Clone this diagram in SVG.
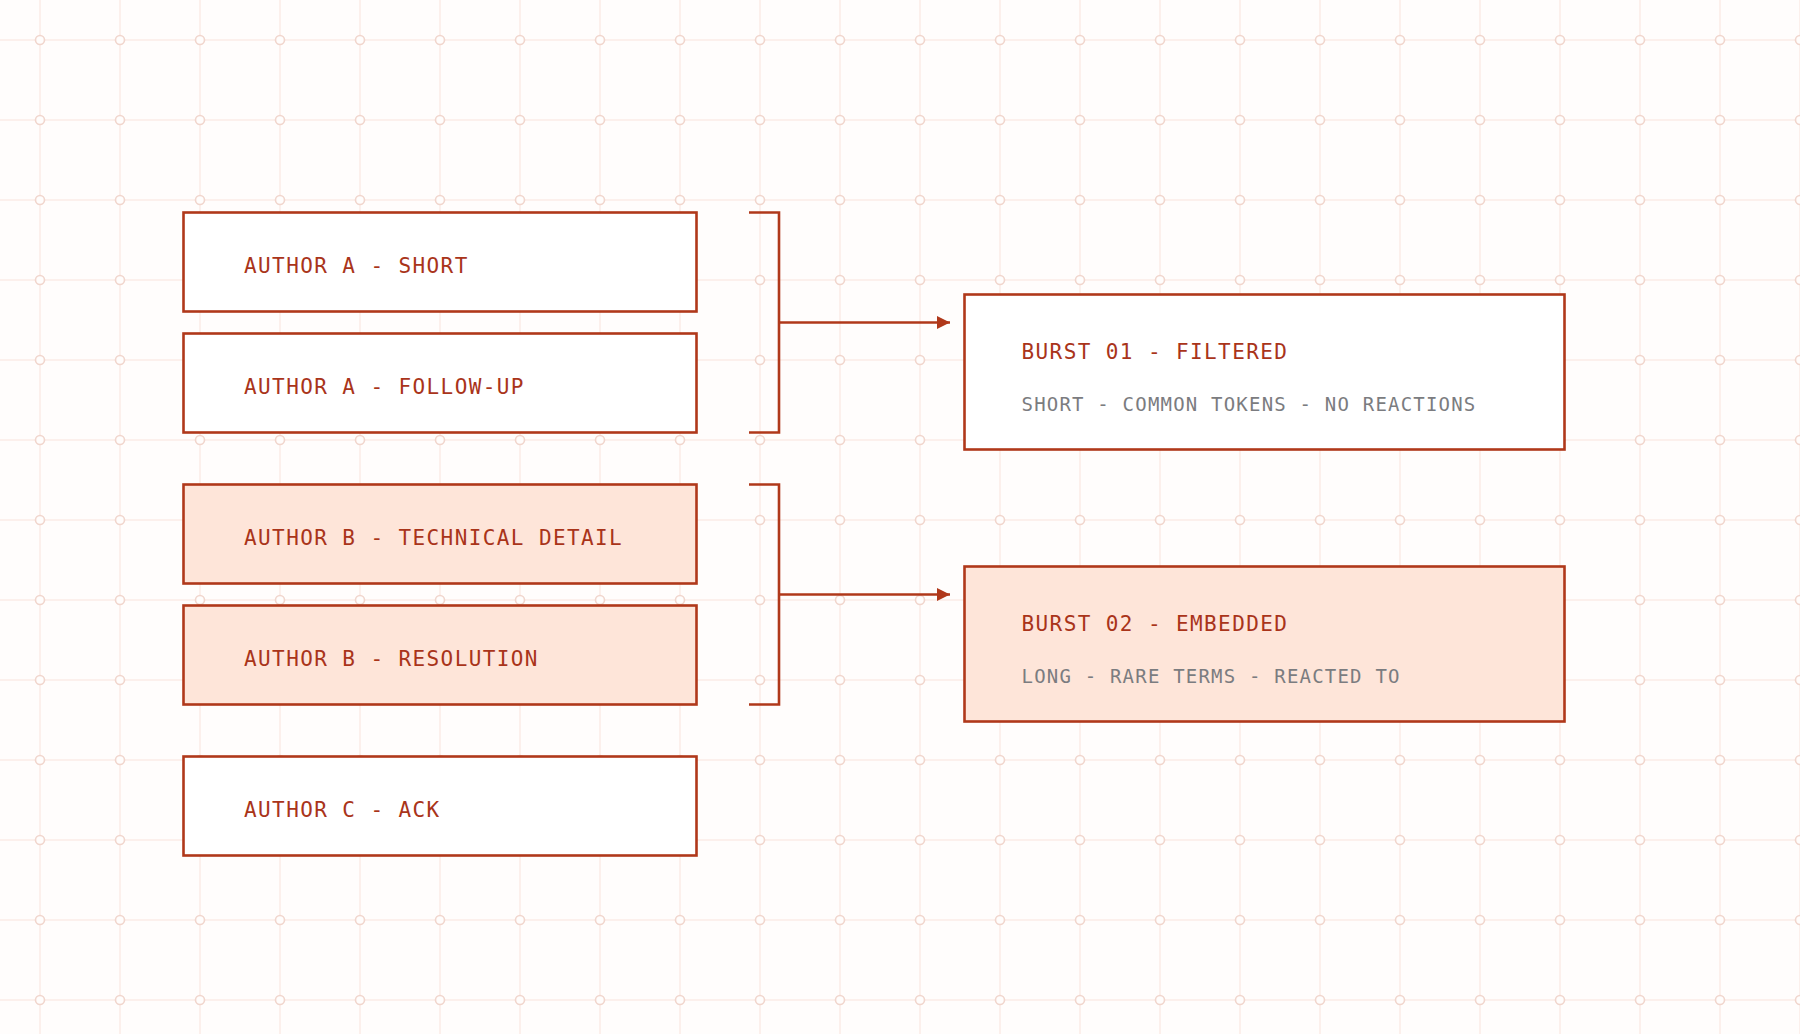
<svg xmlns="http://www.w3.org/2000/svg" width="1800" height="1034" viewBox="0 0 1800 1034">
<defs>
<pattern id="grid" x="0" y="0" width="80" height="80" patternUnits="userSpaceOnUse">
<path d="M40 0V80M0 40H80" stroke="#fcf0ec" stroke-width="2" fill="none"/>
<circle cx="40" cy="40" r="4.5" fill="#fffdfc" stroke="#f1d6cd" stroke-width="1.6"/>
</pattern>
<marker id="arr" markerWidth="14" markerHeight="14" refX="13" refY="6.5" orient="auto" markerUnits="userSpaceOnUse">
<path d="M0 0L13 6.5L0 13Z" fill="#b0381a"/>
</marker>
</defs>
<style>
.box{fill:#ffffff;stroke:#b0381a;stroke-width:2.6}
.hot{fill:#fee5d9}
.lbl{font-family:"DejaVu Sans Mono","Liberation Mono",monospace;font-size:21px;letter-spacing:1.4px;fill:#a9341a}
.sub{font-family:"DejaVu Sans Mono","Liberation Mono",monospace;font-size:19px;letter-spacing:1.2px;fill:#7b7c80}
.con{fill:none;stroke:#b0381a;stroke-width:2.6}
</style>
<rect width="1800" height="1034" fill="#fffdfc"/>
<rect width="1800" height="1034" fill="url(#grid)"/>

<g id="author-a-short">
<rect class="box" x="183.5" y="212.5" width="513" height="99"/>
<text class="lbl" x="244" y="273">AUTHOR A - SHORT</text>
</g>
<g id="author-a-followup">
<rect class="box" x="183.5" y="333.5" width="513" height="99"/>
<text class="lbl" x="244" y="394">AUTHOR A - FOLLOW-UP</text>
</g>
<g id="author-b-technical">
<rect class="box hot" x="183.5" y="484.5" width="513" height="99"/>
<text class="lbl" x="244" y="545">AUTHOR B - TECHNICAL DETAIL</text>
</g>
<g id="author-b-resolution">
<rect class="box hot" x="183.5" y="605.5" width="513" height="99"/>
<text class="lbl" x="244" y="666">AUTHOR B - RESOLUTION</text>
</g>
<g id="author-c-ack">
<rect class="box" x="183.5" y="756.5" width="513" height="99"/>
<text class="lbl" x="244" y="817">AUTHOR C - ACK</text>
</g>

<g id="burst-01">
<rect class="box" x="964.5" y="294.5" width="600" height="155"/>
<text class="lbl" x="1021.5" y="359">BURST 01 - FILTERED</text>
<text class="sub" x="1021.5" y="411">SHORT - COMMON TOKENS - NO REACTIONS</text>
</g>
<g id="burst-02">
<rect class="box hot" x="964.5" y="566.5" width="600" height="155"/>
<text class="lbl" x="1021.5" y="631">BURST 02 - EMBEDDED</text>
<text class="sub" x="1021.5" y="683">LONG - RARE TERMS - REACTED TO</text>
</g>

<g id="connectors">
<path class="con" d="M749 212.5H779V432.5H749"/>
<path class="con" d="M779 322.5H950" marker-end="url(#arr)"/>
<path class="con" d="M749 484.5H779V704.5H749"/>
<path class="con" d="M779 594.5H950" marker-end="url(#arr)"/>
</g>
</svg>
